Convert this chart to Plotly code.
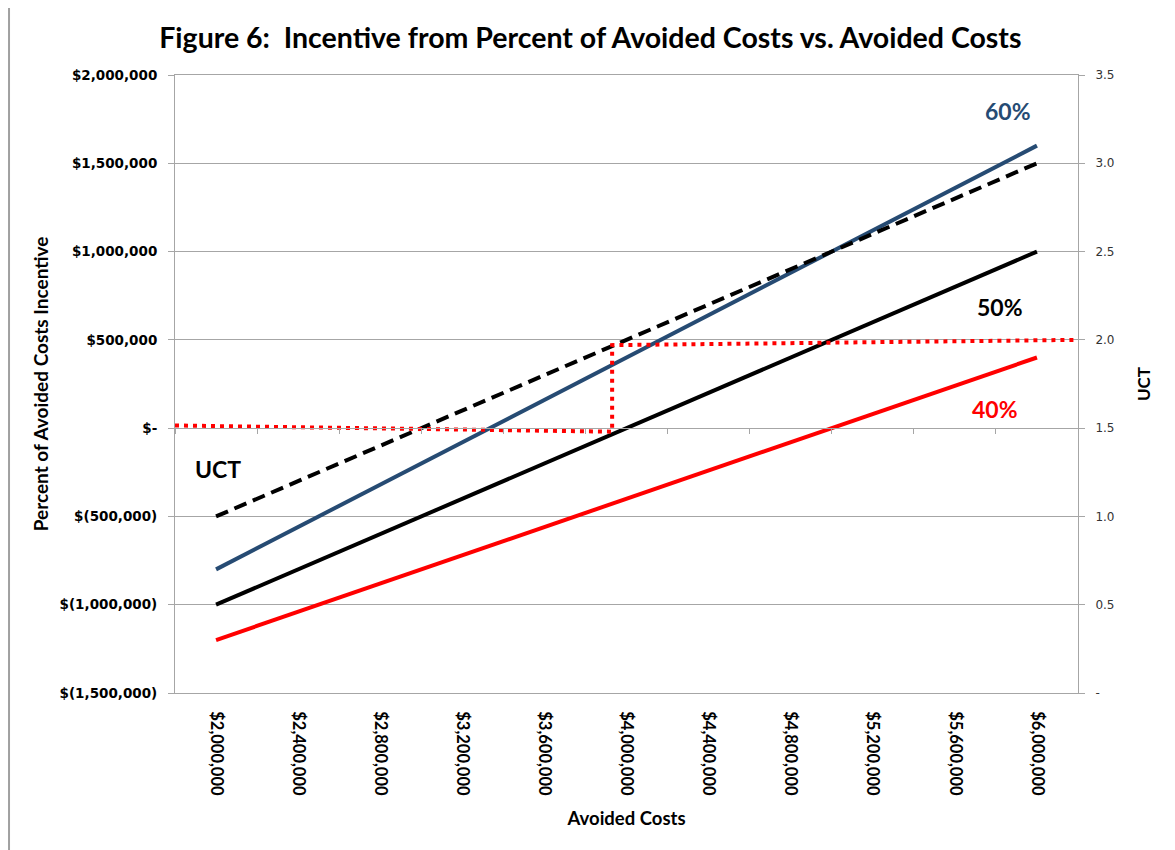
import plotly.graph_objects as go

# ---- data ----
avoided_costs = [2000000, 6000000]
incentive_60 = [-800000, 1600000]
incentive_50 = [-1000000, 1000000]
incentive_40 = [-1200000, 400000]
uct = [1.0, 3.0]

# red dotted guide (on UCT axis)
guide_x = [1800000, 3930000, 3930000, 6200000]
guide_uct = [1.515, 1.48, 1.97, 2.0]

x_ticks = [2000000, 2400000, 2800000, 3200000, 3600000, 4000000,
           4400000, 4800000, 5200000, 5600000, 6000000]
x_tick_labels = ["$2,000,000", "$2,400,000", "$2,800,000", "$3,200,000",
                 "$3,600,000", "$4,000,000", "$4,400,000", "$4,800,000",
                 "$5,200,000", "$5,600,000", "$6,000,000"]
x_bounds = [1800000 + 400000 * k for k in range(12)]

y_ticks = [-1500000, -1000000, -500000, 0, 500000, 1000000, 1500000, 2000000]
y_tick_labels = ["$(1,500,000)", "$(1,000,000)", "$(500,000)", "$-",
                 "$500,000", "$1,000,000", "$1,500,000", "$2,000,000"]
y2_ticks = [0, 0.5, 1.0, 1.5, 2.0, 2.5, 3.0, 3.5]
y2_tick_labels = ["-", "0.5", "1.0", "1.5", "2.0", "2.5", "3.0", "3.5"]

NAVY = "#264B73"
GRID = "#A6A6A6"

fig = go.Figure()
fig.add_trace(go.Scatter(x=avoided_costs, y=incentive_60, mode="lines",
                         line=dict(color=NAVY, width=4), name="60%"))
fig.add_trace(go.Scatter(x=avoided_costs, y=incentive_50, mode="lines",
                         line=dict(color="#000000", width=4), name="50%"))
fig.add_trace(go.Scatter(x=avoided_costs, y=incentive_40, mode="lines",
                         line=dict(color="#FF0000", width=4), name="40%"))
fig.add_trace(go.Scatter(x=avoided_costs, y=uct, mode="lines", yaxis="y2",
                         line=dict(color="#000000", width=4, dash="13px,7px"),
                         name="UCT"))
fig.add_trace(go.Scatter(x=guide_x, y=guide_uct, mode="lines", yaxis="y2",
                         line=dict(color="#FF0000", width=4, dash="4px,5px"),
                         name="guide"))
# invisible trace so the zero-line axis renders
fig.add_trace(go.Scatter(x=[x_bounds[0]], y=[0], xaxis="x2", mode="markers",
                         marker=dict(opacity=0), hoverinfo="skip"))

label_font = "Lato"
ann = [
    (5860000, 1795000, "60%", NAVY),
    (5820000, 685000, "50%", "#000000"),
    (5795000, 108000, "40%", "#FF0000"),
    (2010000, -232000, "UCT", "#000000"),
]
for ax_, ay_, t, c in ann:
    fig.add_annotation(x=ax_, y=ay_, xref="x", yref="y", text=f"<b>{t}</b>",
                       showarrow=False,
                       font=dict(family=label_font, size=23, color=c))

fig.update_layout(
    width=1167, height=842,
    margin=dict(l=167, r=97, t=67, b=157),
    paper_bgcolor="white", plot_bgcolor="white",
    showlegend=False,
    title=dict(text="<b>Figure 6:\u00a0 Incentive from Percent of Avoided Costs vs. Avoided Costs</b>",
               x=0.46, xref="paper", xanchor="center", y=1 - 30 / 842, yanchor="middle",
               font=dict(family=label_font, size=28.5, color="#000000")),
    xaxis=dict(range=[1800000, 6200000], tickvals=x_ticks, ticktext=x_tick_labels,
               tickangle=90, ticks="", showgrid=False, zeroline=False,
               showline=True, linecolor=GRID, linewidth=1, mirror=True,
               ticklabelstandoff=14,
               tickfont=dict(family=label_font, size=16.5, color="#000000", weight="bold"),
               title=dict(text="<b>Avoided Costs</b>", standoff=17,
                          font=dict(family=label_font, size=18.5, color="#000000"))),
    xaxis2=dict(range=[1800000, 6200000], overlaying="x", anchor="free",
                position=1500000 / 3500000, side="bottom",
                tickvals=x_bounds, showticklabels=False, ticks="outside",
                ticklen=5, tickcolor=GRID, showline=True, linecolor=GRID,
                showgrid=False, zeroline=False),
    yaxis=dict(range=[-1500000, 2000000], tickvals=y_ticks, ticktext=y_tick_labels,
               showgrid=True, gridcolor=GRID, gridwidth=1, zeroline=False,
               showline=True, linecolor=GRID, ticks="outside", ticklen=6,
               tickcolor=GRID, ticklabelstandoff=8,
               tickfont=dict(family="DejaVu Sans", size=13.5, color="#000000", weight="bold"),
               title=dict(text="<b>Percent of Avoided Costs Incentive</b>", standoff=5,
                          font=dict(family=label_font, size=19, color="#000000"))),
    yaxis2=dict(range=[0, 3.5], tickvals=y2_ticks, ticktext=y2_tick_labels,
                overlaying="y", side="right", showgrid=False, zeroline=False,
                showline=True, linecolor=GRID, ticks="outside", ticklen=6,
                tickcolor=GRID, ticklabelstandoff=8,
                tickfont=dict(family="DejaVu Sans", size=12, color="#333333"),
                title=dict(text="<b>UCT</b>", standoff=24,
                           font=dict(family=label_font, size=17, color="#000000"))),
)

# figure frame edges
fig.add_shape(type="line", xref="paper", yref="paper", x0=-0.1838, x1=-0.1838,
              y0=-0.3, y1=1.15, line=dict(color="#A0A0A0", width=2))
fig.add_shape(type="line", xref="paper", yref="paper", x0=1.104, x1=1.104,
              y0=-0.3, y1=1.15, line=dict(color="#C8C8C8", width=2))

fig.write_html("out.html")
